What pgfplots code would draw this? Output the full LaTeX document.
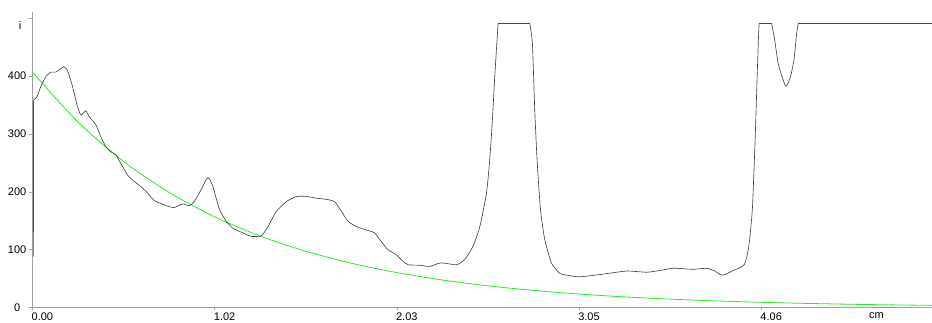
\documentclass[border=0pt]{standalone}
\usepackage{fontspec}
\setmainfont{Liberation Sans}
\usepackage{pgfplots}
\pgfplotsset{compat=1.18}
\definecolor{fitgreen}{RGB}{40,235,40}
\definecolor{axgray}{RGB}{160,160,160}
\begin{document}
\begin{tikzpicture}
\begin{axis}[
  scale only axis, width=899.5pt, height=295.5pt,
  xmin=0, xmax=5.011, ymin=0, ymax=511,
  axis x line=bottom, axis y line=left,
  axis line style={-, draw=axgray, line width=1.5pt},
  xtick={0,1.015,2.03,3.045,4.06},
  xticklabels={0.00,1.02,2.03,3.05,4.06},
  extra x ticks={4.665}, extra x tick labels={cm},
  extra x tick style={tick style={draw=none}},
  ytick={0,100,200,300,400,500},
  yticklabels={0\hspace*{6pt},100,200,300,400,},
  tick align=outside, major tick length=3pt,
  tick style={draw=axgray, line width=0.6pt},
  every tick label/.append style={font=\fontsize{11pt}{13pt}\selectfont},
  xticklabel style={anchor=north west, inner sep=0pt, xshift=-1pt, yshift=-2pt},
  yticklabel style={anchor=east, inner sep=0pt, xshift=-3pt},
  every axis plot/.append style={black!72, line width=0.65pt},
]
\addplot[fitgreen, line width=0.8pt, smooth] coordinates {
(0,407) (0.25,321.8) (0.5,254.4) (0.75,201.1) (1.0,159.0) (1.25,125.7)
(1.5,99.4) (1.75,78.5) (2.0,62.1) (2.25,49.1) (2.5,38.8) (2.75,30.7)
(3.0,24.3) (3.25,19.2) (3.5,15.2) (3.75,12.0) (4.0,9.5) (4.25,7.5)
(4.5,5.9) (4.75,4.7) (5.011,3.7)
};
% signal: vertical start
\addplot[sharp plot] coordinates {(0.005,88) (0.006,359)};
% signal up to first saturated peak
\addplot[smooth, tension=0.35] coordinates {
(0.006,359) (0.024,364) (0.046,382) (0.074,399) (0.102,407)
(0.13,407) (0.158,413) (0.176,416) (0.195,410) (0.223,382) (0.251,347)
(0.27,333) (0.297,340) (0.316,330) (0.353,316) (0.381,295) (0.409,278)
(0.437,269) (0.465,264) (0.492,249) (0.53,229) (0.567,218) (0.604,209)
(0.641,198) (0.678,185) (0.715,180) (0.753,175) (0.79,173) (0.836,179)
(0.873,176) (0.901,183) (0.938,203) (0.977,225) (1.005,209) (1.042,169)
(1.08,149) (1.117,137) (1.172,129) (1.219,123) (1.275,124) (1.312,140)
(1.358,166) (1.414,183) (1.47,192) (1.526,192) (1.581,189) (1.637,187)
(1.683,183) (1.721,166) (1.758,149) (1.804,140) (1.86,134) (1.906,129)
(1.943,114) (1.98,100) (2.027,91) (2.064,80) (2.092,74) (2.157,73)
(2.213,71) (2.259,76) (2.287,77) (2.362,74) (2.408,83) (2.454,106)
(2.492,140) (2.529,198) (2.547,255) (2.562,324) (2.575,399) (2.594,492)
};
\addplot[sharp plot] coordinates {(2.594,492) (2.77,492)};
\addplot[smooth, tension=0.35] coordinates {
(2.77,492) (2.785,456) (2.798,341) (2.811,255) (2.83,169) (2.854,117)
(2.891,77) (2.938,59) (2.993,55) (3.049,53) (3.161,57) (3.309,63)
(3.421,61) (3.495,64) (3.569,68) (3.681,66) (3.755,68) (3.802,63)
(3.829,57) (3.848,56) (3.904,64) (3.965,74) (3.99,105) (4.01,169)
(4.025,284) (4.034,370) (4.043,456) (4.048,492)
};
\addplot[sharp plot] coordinates {(4.048,492) (4.117,492)};
\addplot[smooth, tension=0.35] coordinates {
(4.117,492) (4.135,462) (4.154,422) (4.179,396) (4.197,383) (4.22,396)
(4.242,428) (4.257,474) (4.266,492)
};
\addplot[sharp plot] coordinates {(4.266,492) (5.011,492)};
\end{axis}
\node[font=\fontsize{11pt}{13pt}\selectfont, inner sep=0pt] at ([xshift=-12.5pt,yshift=-13.5pt]current axis.north west) {i};
\pgfresetboundingbox
\path ([shift={(-32.5pt,-15.5pt)}]current axis.south west) rectangle ++(932pt,323pt);
\end{tikzpicture}
\end{document}
